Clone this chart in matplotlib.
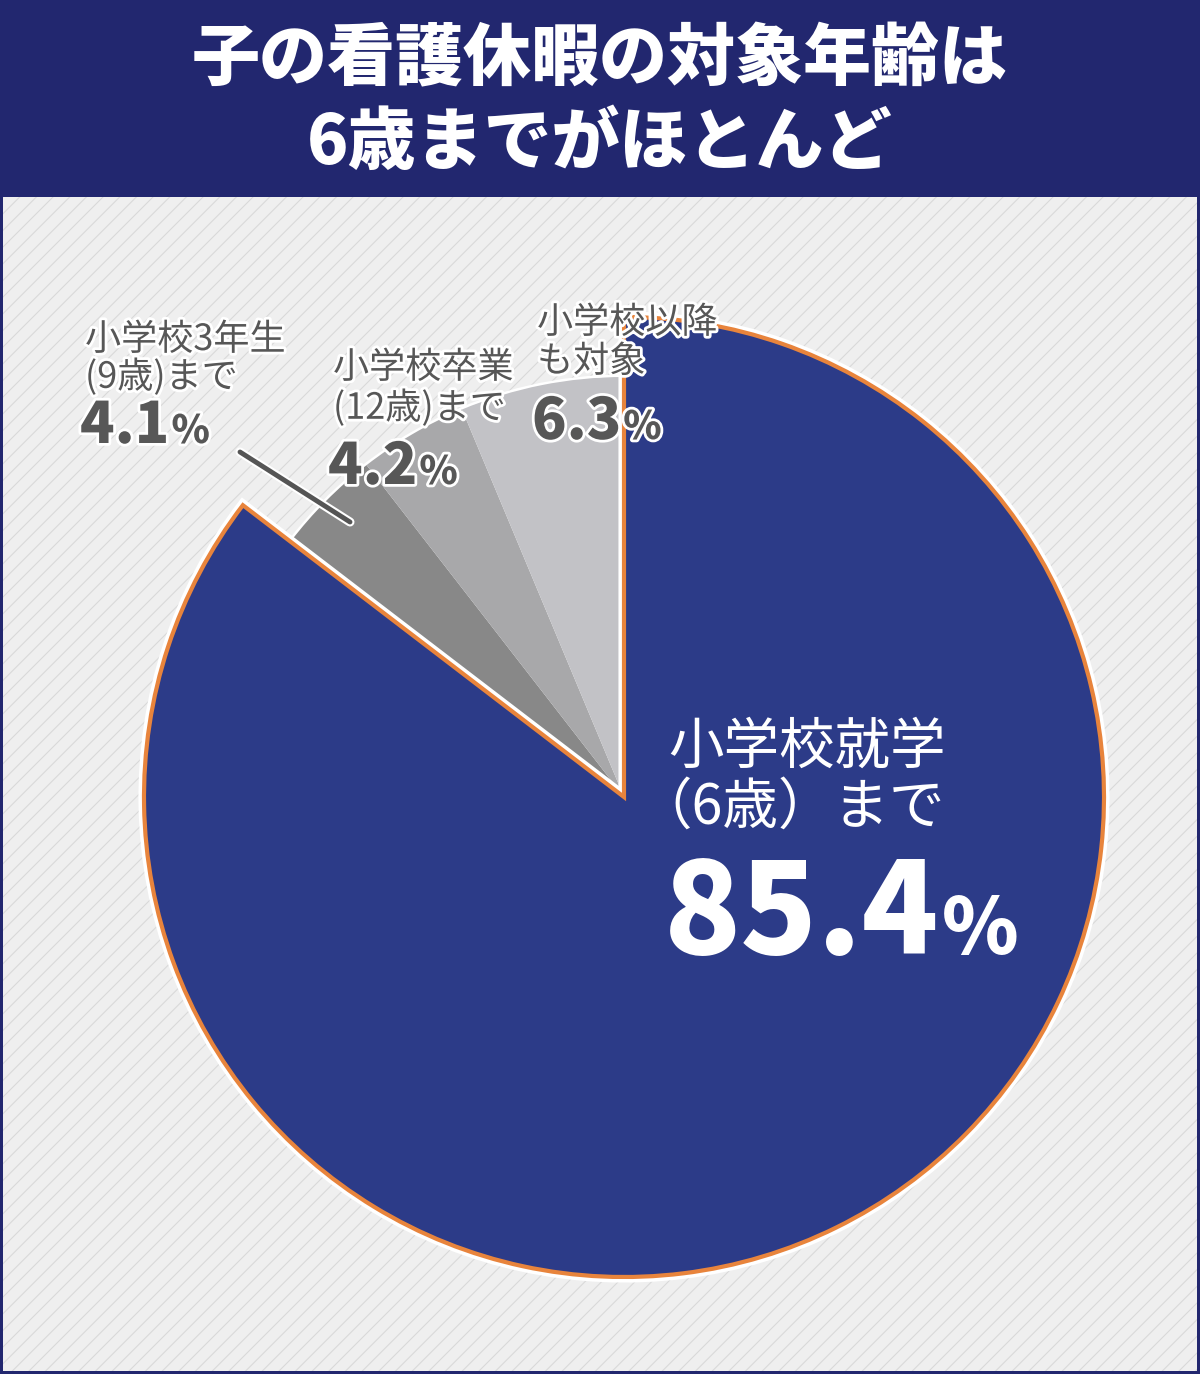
import matplotlib
matplotlib.use('Agg')
import matplotlib.pyplot as plt
import matplotlib.patheffects as pe
from matplotlib.patches import Rectangle, Wedge

plt.rcParams['font.family'] = ['Noto Sans CJK JP', 'DejaVu Sans']
plt.rcParams['hatch.linewidth'] = 0.8

# ── data ─────────────────────────────────────────────
TITLE = ['子の看護休暇の対象年齢は', '6歳までがほとんど']
labels = [['小学校就学', '（6歳）まで'],
          ['小学校3年生', '(9歳)まで'],
          ['小学校卒業', '(12歳)まで'],
          ['小学校以降', 'も対象']]
shares = [85.4, 4.1, 4.2, 6.3]

# ── style ────────────────────────────────────────────
NAVY_BG = '#22276f'
NAVY = '#2c3b88'
ORANGE = '#e8843c'
GRAYS = ['#888888', '#a8a8aa', '#c2c2c6']
TXT_GRAY = '#575757'
W, H = 1200, 1374
CX, CY = 624, 797
R_MAIN, R_SUB = 480, 420

fig = plt.figure(figsize=(W / 100, H / 100), dpi=100, facecolor=NAVY_BG)
ax = fig.add_axes([0, 0, 1, 1])
ax.set_axis_off()

# content panel with diagonal stripes
ax.add_patch(Rectangle((3, 197), W - 6, H - 200, facecolor='#efefef',
                       edgecolor='#d9d9d9', linewidth=0, hatch='//', zorder=0))

wedges, _ = ax.pie(shares, startangle=-90, counterclock=True,
                   center=(CX, CY), radius=R_MAIN,
                   colors=[NAVY] + GRAYS)
ax.set_xlim(0, W)
ax.set_ylim(H, 0)
ax.set_aspect('auto')

# smaller grey slices with a thin white rim behind them
for w in wedges[1:]:
    w.set_radius(R_SUB)
    w.set_linewidth(0)
    w.set_zorder(2)
rim = Wedge((CX, CY), R_SUB + 2.5, wedges[1].theta1, wedges[-1].theta2,
            facecolor='white', linewidth=0, zorder=1.5)
ax.add_patch(rim)

main = wedges[0]
main.set_edgecolor(ORANGE)
main.set_linewidth(3.0)
main.set_zorder(3)
main.set_path_effects([pe.Stroke(linewidth=8, foreground='white'), pe.Normal()])

# title
for i, line in enumerate(TITLE):
    ax.text(W / 2, 60 + i * 83, line, color='white', fontsize=49,
            fontweight='black', ha='center', va='center')

renderer = fig.canvas.get_renderer()
halo = [pe.withStroke(linewidth=4, foreground='white')]


def add_label(xs, ys, lines, value, size, num_size, pct_size, color, effects):
    for x, y, line in zip(xs, ys, lines):
        ax.text(x, y, line, fontsize=size, color=color, ha='left', va='center',
                path_effects=effects, zorder=6)
    t = ax.text(xs[-1], ys[-1], f'{value:.1f}', fontsize=num_size, color=color,
                fontweight='black', ha='left', va='baseline',
                path_effects=effects, zorder=6)
    bb = t.get_window_extent(renderer)
    xr = ax.transData.inverted().transform((bb.x1, bb.y0))[0]
    ax.text(xr + 2, ys[-1], '%', fontsize=pct_size, color=color,
            fontweight='black', ha='left', va='baseline',
            path_effects=effects, zorder=6)


# main slice label
add_label([668, 636, 664], [748, 808, 954], labels[0], shares[0],
          40, 91, 56, 'white', None)

# grey slice labels
add_label([85, 85, 80], [340, 377, 443], labels[1], shares[1],
          26, 41, 28, TXT_GRAY, halo)
add_label([333, 333, 328], [368, 408, 484], labels[2], shares[2],
          26, 41, 28, TXT_GRAY, halo)
add_label([537, 537, 532], [323, 362, 439], labels[3], shares[3],
          26, 41, 28, TXT_GRAY, halo)

# leader line for the 4.1% slice
ax.plot([240, 350], [452, 522], color='#555555', linewidth=3.5, solid_capstyle='round',
        zorder=5, path_effects=[pe.Stroke(linewidth=6.5, foreground='white'), pe.Normal()])

fig.savefig('out.png', dpi=100, facecolor=NAVY_BG)
